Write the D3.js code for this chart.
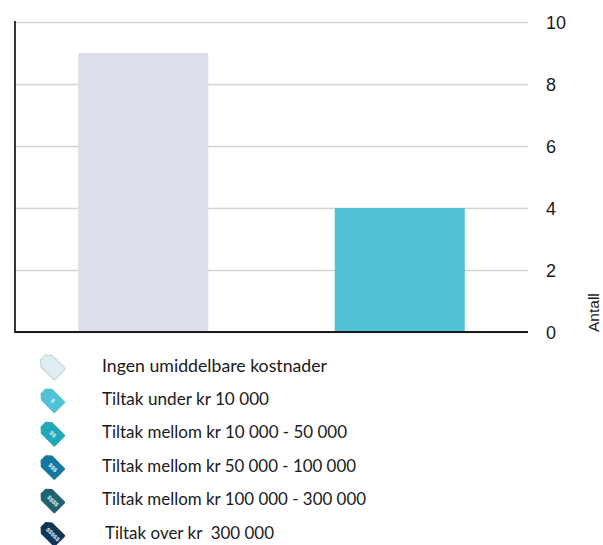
<!DOCTYPE html>
<html>
<head>
<meta charset="utf-8">
<script src="https://cdn.jsdelivr.net/npm/d3@7"></script>
<style>
  html, body { margin: 0; padding: 0; background: #fff; }
  svg { display: block; }
</style>
</head>
<body>
<div id="chart"></div>
<script>
const categories = ["Ingen umiddelbare kostnader", "Tiltak under kr 10 000"];
const values = [9, 4];
const barColors = ["#dcdeea", "#51c2d8"];
const yTicks = [0, 2, 4, 6, 8, 10];
const yTitle = "Antall";

const legendLabels = [
    "Ingen umiddelbare kostnader",
    "Tiltak under kr 10 000",
    "Tiltak mellom kr 10 000 - 50 000",
    "Tiltak mellom kr 50 000 - 100 000",
    "Tiltak mellom kr 100 000 - 300 000",
    "Tiltak over kr  300 000"
];
const legendColors = ["#dfeef3", "#51c2d8", "#1fa9b8", "#17789f", "#1f6270", "#0f3557"];
const legendSigns = ["", "$", "$$", "$$$", "$$$$", "$$$$$"];

const width = 603;
const height = 545;
const plot = { left: 15, right: 528, top: 22, bottom: 332 };

// Lato digits run wider than the reference font, so pin each label's width
const legendTextWidths = [225, 167, 245, 254, 264, 169];

const svg = d3.select("#chart").append("svg").attr("width", width).attr("height", height);

// scales
const xScale = d3.scaleBand()
    .domain(categories)
    .range([plot.left, plot.right])
    .paddingInner(0.493)
    .paddingOuter(0.2465);

const yScale = d3.scaleLinear()
    .domain([0, 10])
    .range([plot.bottom, plot.top]);

// grid lines and right hand axis
const yAxis = d3.axisRight(yScale)
    .tickValues(yTicks)
    .tickSize(plot.left - plot.right);

const axisG = svg.append("g")
    .attr("transform", `translate(${plot.right},0)`)
    .call(yAxis);

axisG.select(".domain").remove();
axisG.selectAll(".tick line")
    .attr("stroke", "#d4d4d4")
    .attr("stroke-width", 1.6);
axisG.selectAll(".tick text")
    .attr("x", 18)
    .attr("y", 0.5)
    .attr("text-anchor", "start")
    .attr("fill", "#1a1a1a")
    .style("font-family", "'Liberation Sans', Arial, sans-serif")
    .style("font-size", "18px");

// bars
svg.selectAll("rect.bar")
    .data(categories)
    .join("rect")
    .attr("class", "bar")
    .attr("x", d => xScale(d))
    .attr("y", (d, i) => yScale(values[i]))
    .attr("width", xScale.bandwidth())
    .attr("height", (d, i) => yScale(0) - yScale(values[i]))
    .attr("fill", (d, i) => barColors[i]);

// left and bottom axis lines
svg.append("line")
    .attr("x1", plot.left).attr("x2", plot.left)
    .attr("y1", plot.top - 1).attr("y2", plot.bottom + 1)
    .attr("stroke", "#222").attr("stroke-width", 1.8);
svg.append("line")
    .attr("x1", plot.left).attr("x2", plot.right)
    .attr("y1", plot.bottom).attr("y2", plot.bottom)
    .attr("stroke", "#1a1a1a").attr("stroke-width", 1.8);

// axis title
svg.append("text")
    .attr("transform", "translate(599,332) rotate(-90)")
    .attr("fill", "#1a1a1a")
    .style("font-family", "'Liberation Sans', Arial, sans-serif")
    .style("font-size", "15.5px")
    .text(yTitle);

// legend with price tags
const legendY = d3.scalePoint()
    .domain(legendLabels)
    .range([366, 533]);

const legend = svg.selectAll("g.legend")
    .data(legendLabels)
    .join("g")
    .attr("class", "legend")
    .attr("transform", d => `translate(0,${legendY(d)})`);

const tag = legend.append("g")
    .attr("transform", "translate(51.5,0) rotate(-45)");

tag.append("path")
    .attr("d", "M-8,-7 L-3.5,-12 L3.5,-12 L8,-7 L8,10.5 Q8,12 6.5,12 L-6.5,12 Q-8,12 -8,10.5 Z")
    .attr("fill", (d, i) => legendColors[i])
    .attr("stroke", (d, i) => i === 0 ? "#c4cfd4" : "none")
    .attr("stroke-width", 1);

tag.append("text")
    .attr("transform", "translate(0,2) rotate(90)")
    .attr("text-anchor", "middle")
    .attr("dy", "0.35em")
    .attr("fill", "#dff3f6")
    .style("font-family", "'Liberation Sans', Arial, sans-serif")
    .style("font-size", "6px")
    .style("font-weight", "bold")
    .text((d, i) => legendSigns[i]);

legend.append("text")
    .attr("x", (d, i) => i === 5 ? 105 : 102)
    .attr("y", 5.5)
    .attr("textLength", (d, i) => legendTextWidths[i])
    .attr("lengthAdjust", "spacingAndGlyphs")
    .attr("fill", "#1a1a1a")
    .style("font-family", "Lato, 'Open Sans', sans-serif")
    .style("font-size", "17.6px")
    .style("white-space", "pre")
    .text(d => d);
</script>
</body>
</html>
